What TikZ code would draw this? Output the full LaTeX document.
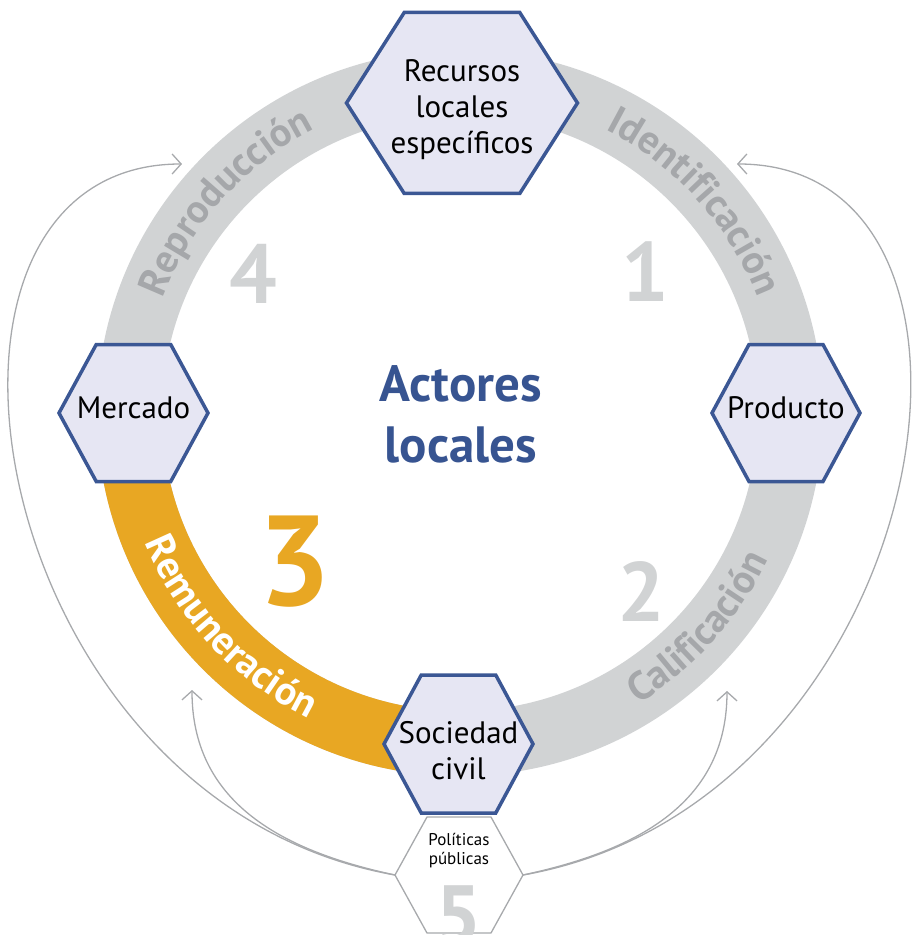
\documentclass[tikz,border=0pt]{standalone}
\usepackage{fontspec}
\setmainfont{PT Sans}
\usetikzlibrary{arrows.meta,decorations.text}

\definecolor{ringgray}{HTML}{D1D3D4}
\definecolor{ringorange}{HTML}{E8A723}
\definecolor{ringtext}{HTML}{A5A7AA}
\definecolor{hexfill}{HTML}{E6E6F3}
\definecolor{hexblue}{HTML}{3B5794}
\definecolor{titleblue}{HTML}{375491}
\definecolor{linegray}{HTML}{A7A9AC}

\tikzset{
  hexbox/.style={draw=hexblue, line width=3.5pt, fill=hexfill, line join=miter},
  polbox/.style={draw=linegray, line width=1.3pt, fill=white},
  hexlabel/.style={align=center, font=\fontsize{31}{36}\selectfont, inner sep=0pt},
  bignum/.style={font=\fontsize{84}{84}\selectfont\bfseries, text=ringgray, inner sep=0pt},
  feedback/.style={draw=linegray, line width=1.3pt,
    -{Straight Barb[length=9pt, width=20pt, line width=1.3pt]}}
}

% hexagon: [style]{center}{half width}{half height}
\newcommand{\hexa}[4][hexbox]{%
  \draw[#1] (#2) +(-#3,0) -- +(-#3/2,#4) -- +(#3/2,#4) -- +(#3,0)
    -- +(#3/2,-#4) -- +(-#3/2,-#4) -- cycle;}

\begin{document}
\begin{tikzpicture}[x=1pt, y=1pt]
\useasboundingbox (-460,-522) rectangle (451,413);

% ring
\draw[ringgray, line width=65pt] (0,0) circle[radius=330.5];
\draw[ringorange, line width=65pt] (180:330.5) arc[start angle=180, end angle=270, radius=330.5];

% ring texts
\path[decorate, decoration={text along path, text align=center,
  text={|\fontsize{40}{40}\selectfont\bfseries\color{ringtext}|Reproducción}}]
  (175:319) arc[start angle=175, end angle=101, radius=319];
\path[decorate, decoration={text along path, text align=center,
  text={|\fontsize{40}{40}\selectfont\bfseries\color{ringtext}|Identificación}}]
  (79:319) arc[start angle=79, end angle=5, radius=319];
\path[decorate, decoration={text along path, text align=center,
  text={|\fontsize{40}{40}\selectfont\bfseries\color{ringtext}|Calificación}}]
  (-79:341) arc[start angle=-79, end angle=-5, radius=341];
\path[decorate, decoration={text along path, text align=center,
  text={|\fontsize{40}{40}\selectfont\bfseries\color{white}|Remuneración}}]
  (186:341) arc[start angle=186, end angle=260, radius=341];

% numbers
\node[bignum] (one) at (185,141) {1};
\node[bignum] (two) at (181,-179) {2};
\node[bignum, text=ringorange, font=\fontsize{128}{128}\selectfont\bfseries] (three) at (-165,-149) {3};
\node[bignum] (four) at (-207,139) {4};

\node[align=center, text=titleblue, font=\fontsize{51}{61}\selectfont\bfseries, inner sep=0pt]
  (actores) at (1,-1) {Actores\\locales};

% feedback from public policies
\coordinate (pol-w) at (-65,-462);
\coordinate (pol-e) at (63,-462);
\coordinate (repro-in) at (-278,249);
\coordinate (ident-in) at (277,249);
\coordinate (remu-in) at (-268,-277);
\coordinate (calif-in) at (267,-278);

\draw[feedback] (pol-w) .. controls +(170:420) and +(180:300) .. (repro-in);
\draw[feedback] (pol-e) .. controls +(10:420) and +(0:300) .. (ident-in);
\draw[feedback] (pol-w) .. controls +(168:120) and +(-90:110) .. (remu-in);
\draw[feedback] (pol-e) .. controls +(12:120) and +(-90:110) .. (calif-in);

% hexagons
\hexa{2,310}{115.5}{90.5}
\node[hexlabel] (recursos) at (2,303) {Recursos\\locales\\específicos};
\hexa{-326.5,0}{74.5}{68.5}
\node[hexlabel] (mercado) at (-326.5,5.5) {Mercado};
\hexa{326,0}{74}{68.5}
\node[hexlabel] (producto) at (326,5.5) {Producto};
\hexa{-1.5,-331}{74.5}{69}
\node[hexlabel] (sociedad) at (-1.5,-337.5) {Sociedad\\civil};

\hexa[polbox]{-1,-462}{64}{58}
\node[align=center, font=\fontsize{17}{19}\selectfont, inner sep=0pt] (politicas) at (-1,-438) {Políticas\\públicas};
\node[bignum] (five) at (-2,-503) {5};
\end{tikzpicture}
\end{document}
